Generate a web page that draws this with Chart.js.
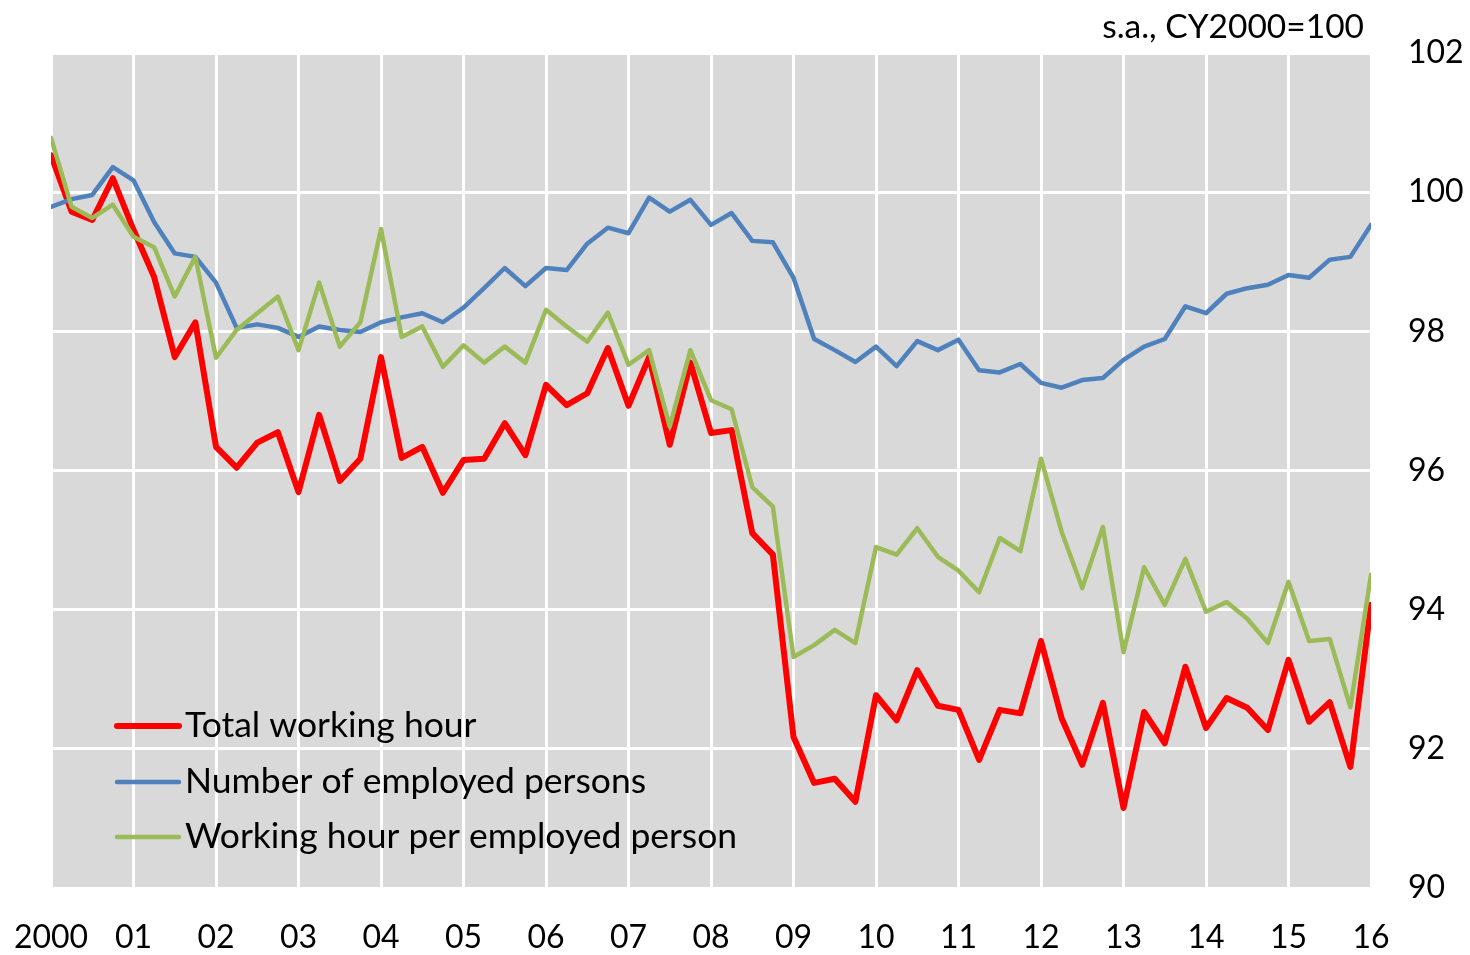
<!DOCTYPE html>
<html>
<head>
<meta charset="utf-8">
<script src="https://cdn.jsdelivr.net/npm/chart.js@4"></script>
<style>
  html, body { margin: 0; padding: 0; background: #fff; }
  canvas { display: block; }
</style>
</head>
<body>
<canvas id="chart" width="1470" height="955"></canvas>
<script>
// quarterly, 2000Q1 .. 2016Q1 (index 0..64)
const yearLabels = ['2000', '01', '02', '03', '04', '05', '06', '07', '08', '09', '10', '11', '12', '13', '14', '15', '16'];
const yTicks = [90, 92, 94, 96, 98, 100, 102];

const totalHours = [
  100.53, 99.72, 99.6, 100.2, 99.46, 98.78, 97.63, 98.13, 96.34, 96.04, 96.4, 96.55, 95.69, 96.8, 95.85, 96.17,
  97.63, 96.18, 96.34, 95.68, 96.15, 96.17, 96.68, 96.22, 97.23, 96.94, 97.11, 97.76, 96.93, 97.63, 96.37, 97.55,
  96.54, 96.58, 95.1, 94.79, 92.17, 91.51, 91.57, 91.24, 92.77, 92.41, 93.13, 92.62, 92.56, 91.84, 92.56, 92.51,
  93.55, 92.44, 91.77, 92.66, 91.15, 92.53, 92.08, 93.18, 92.3, 92.73, 92.59, 92.27, 93.28, 92.39, 92.67, 91.74,
  94.07
];
const employed = [
  99.79, 99.9, 99.96, 100.36, 100.17, 99.57, 99.12, 99.07, 98.7, 98.05, 98.1, 98.05, 97.92, 98.07, 98.02, 97.99,
  98.13, 98.2, 98.26, 98.13, 98.34, 98.62, 98.91, 98.65, 98.91, 98.88, 99.26, 99.49, 99.41, 99.92, 99.72, 99.89,
  99.53, 99.7, 99.3, 99.28, 98.77, 97.89, 97.73, 97.56, 97.78, 97.5, 97.86, 97.73, 97.88, 97.44, 97.41, 97.53,
  97.26, 97.19, 97.3, 97.33, 97.59, 97.78, 97.89, 98.36, 98.26, 98.54, 98.62, 98.67, 98.81, 98.77, 99.03, 99.07,
  99.53
];
const hoursPerPerson = [
  100.78, 99.79, 99.63, 99.82, 99.36, 99.21, 98.5, 99.07, 97.62, 98.02, 98.26, 98.5, 97.73, 98.7, 97.78, 98.13,
  99.47, 97.92, 98.07, 97.49, 97.8, 97.55, 97.78, 97.55, 98.31, 98.07, 97.85, 98.27, 97.52, 97.73, 96.63, 97.73,
  97.01, 96.88, 95.76, 95.48, 93.32, 93.49, 93.71, 93.52, 94.9, 94.79, 95.17, 94.76, 94.56, 94.25, 95.03, 94.84,
  96.17, 95.12, 94.31, 95.19, 93.39, 94.61, 94.07, 94.73, 93.97, 94.11, 93.87, 93.52, 94.4, 93.55, 93.58, 92.6,
  94.5
];

const seriesNames = ['Total working hour', 'Number of employed persons', 'Working hour per employed person'];
const seriesColors = ['#FF0000', '#4F81BD', '#9BBB59'];

const FONT = 'Lato, "Open Sans", sans-serif';
const toPoints = arr => arr.map((v, i) => ({ x: i, y: v }));

const plotBackground = {
  id: 'plotBackground',
  beforeDraw(chart) {
    const { ctx, chartArea: a } = chart;
    ctx.save();
    ctx.fillStyle = '#D9D9D9';
    ctx.fillRect(a.left, a.top, a.right - a.left, a.bottom - a.top);
    ctx.restore();
  }
};

const legendAndNote = {
  id: 'legendAndNote',
  afterDraw(chart) {
    const { ctx } = chart;
    ctx.save();
    ctx.font = '33.5px ' + FONT;
    ctx.fillStyle = '#000';
    ctx.textBaseline = 'middle';
    ctx.textAlign = 'right';
    ctx.fillText('s.a., CY2000=100', 1364, 27);

    ctx.font = '35.5px ' + FONT;
    ctx.textAlign = 'left';
    const rows = [726, 782, 837];
    seriesNames.forEach((name, i) => {
      ctx.strokeStyle = seriesColors[i];
      ctx.lineWidth = i === 0 ? 6 : 4.5;
      ctx.lineCap = 'round';
      ctx.beginPath();
      ctx.moveTo(117, rows[i]);
      ctx.lineTo(179, rows[i]);
      ctx.stroke();
      ctx.fillStyle = '#000';
      ctx.fillText(name, 185, rows[i]);
    });
    ctx.restore();
  }
};

new Chart(document.getElementById('chart').getContext('2d'), {
  type: 'line',
  data: {
    datasets: [
      { label: seriesNames[2], data: toPoints(hoursPerPerson), borderColor: seriesColors[2], borderWidth: 4.5 },
      { label: seriesNames[1], data: toPoints(employed), borderColor: seriesColors[1], borderWidth: 4.5 },
      { label: seriesNames[0], data: toPoints(totalHours), borderColor: seriesColors[0], borderWidth: 6 }
    ]
  },
  options: {
    responsive: false,
    animation: false,
    devicePixelRatio: 1,
    layout: { padding: { left: 51, top: 53, right: 0, bottom: 0 } },
    elements: {
      point: { radius: 0 },
      line: { tension: 0, borderJoinStyle: 'round', borderCapStyle: 'round', fill: false }
    },
    plugins: { legend: { display: false }, tooltip: { enabled: false } },
    scales: {
      x: {
        type: 'linear',
        min: 0,
        max: (yearLabels.length - 1) * 4,
        afterBuildTicks: s => { s.ticks = yearLabels.map((_, i) => ({ value: i * 4 })); },
        afterFit: s => { s.height = 67; s.paddingLeft = 0; s.paddingRight = 0; },
        grid: { color: '#FFFFFF', lineWidth: 3, drawTicks: false },
        border: { display: false },
        ticks: {
          autoSkip: false,
          maxRotation: 0,
          padding: 30,
          color: '#000',
          font: { family: FONT, size: 32 },
          callback: v => yearLabels[v / 4]
        }
      },
      y: {
        position: 'right',
        min: yTicks[0],
        max: yTicks[yTicks.length - 1],
        afterBuildTicks: s => { s.ticks = yTicks.map(v => ({ value: v })); },
        afterFit: s => { s.width = 99; s.paddingTop = 0; s.paddingBottom = 0; },
        grid: { color: '#FFFFFF', lineWidth: 3, drawTicks: false },
        border: { display: false },
        ticks: {
          padding: 37,
          crossAlign: 'near',
          color: '#000',
          font: { family: FONT, size: 32 }
        }
      }
    }
  },
  plugins: [plotBackground, legendAndNote]
});
</script>
</body>
</html>
